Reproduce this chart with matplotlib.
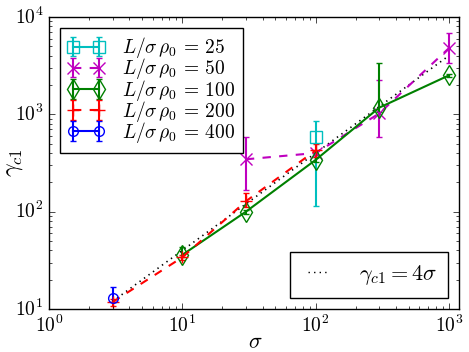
import matplotlib
matplotlib.use("Agg")
import matplotlib.pyplot as plt
import numpy as np

plt.style.use("classic")
plt.rcParams["mathtext.fontset"] = "cm"
plt.rcParams["font.family"] = "serif"
plt.rcParams["font.serif"] = ["cmr10", "DejaVu Serif"]
plt.rcParams["axes.formatter.use_mathtext"] = True

# L/sigma rho0 = 25
s25 = [100]
g25 = [590]
lo25 = [475]
up25 = [260]

# 50
s50 = [30, 100, 300, 1000]
g50 = [345, 400, 1020, 4780]
lo50 = [180, 20, 440, 1450]
up50 = [235, 20, 1220, 2120]

# 100
s100 = [10, 30, 100, 300, 1000]
g100 = [36, 100, 340, 1170, 2510]
lo100 = [2, 5, 20, 120, 100]
up100 = [7, 5, 20, 2230, 100]

# 200
s200 = [3, 10, 30, 100]
g200 = [11.8, 34, 128, 425]
lo200 = [1, 2, 15, 62]
up200 = [1, 2, 27, 75]

# 400
s400 = [3]
g400 = [12.9]
lo400 = [1]
up400 = [4]

ref_sigma = [3, 1000]
ref_coef = 4

fig = plt.figure(figsize=(4.69, 3.52), dpi=100, facecolor="white")
ax = fig.add_axes([0.1045, 0.122, 0.8742, 0.830])

series = [
    (s25, g25, lo25, up25, "c", "s", "-", 25, 8),
    (s50, g50, lo50, up50, "m", "x", "--", 50, 9),
    (s100, g100, lo100, up100, "g", "d", "-", 100, 10),
    (s200, g200, lo200, up200, "r", "+", "--", 200, 9),
    (s400, g400, lo400, up400, "b", "o", "-", 400, 7),
]
handles = []
for s, g, lo, up, c, m, ls, L, ms in series:
    h = ax.errorbar(s, g, yerr=[lo, up], color=c, marker=m, ls=ls, lw=1.5,
                    mfc="none", mec=c, ms=ms, mew=1.0,
                    capsize=2.5, capthick=1.5, elinewidth=1.5,
                    label=r"$L/\sigma\,\rho_0\, =\, %d$" % L)
    handles.append(h)

rs = np.array(ref_sigma, dtype=float)
ref_line, = ax.plot(rs, ref_coef * rs, color="k", ls=":", lw=1.2,
                    label=r"$\gamma_{c1} = 4\sigma$")

ax.set_xscale("log")
ax.set_yscale("log")
ax.set_xlim(1, 1190)
ax.set_ylim(10, 1e4)
ax.set_xlabel(r"$\sigma$", fontsize=16)
ax.set_ylabel(r"$\gamma_{c1}$", fontsize=17)
ax.xaxis.set_label_coords(0.504, -0.113)
ax.yaxis.set_label_coords(-0.085, 0.50)
ax.xaxis.label.set_va("center")
ax.yaxis.label.set_va("center")
ax.tick_params(labelsize=14)

leg1 = ax.legend(handles=handles, loc="upper left", numpoints=2, fontsize=14,
                 fancybox=False, borderaxespad=0.55, handlelength=1.9,
                 labelspacing=-0.2, handletextpad=0.9, borderpad=0.4)
ax.add_artist(leg1)
leg2 = ax.legend(handles=[ref_line], loc="lower right", fontsize=16, fancybox=False,
                 borderaxespad=0.5, handlelength=1.5, handletextpad=1.1, borderpad=0.5)
leg2.get_lines()[0].set_linewidth(1.0)

fig.savefig("out.png", dpi=100, facecolor="white")
